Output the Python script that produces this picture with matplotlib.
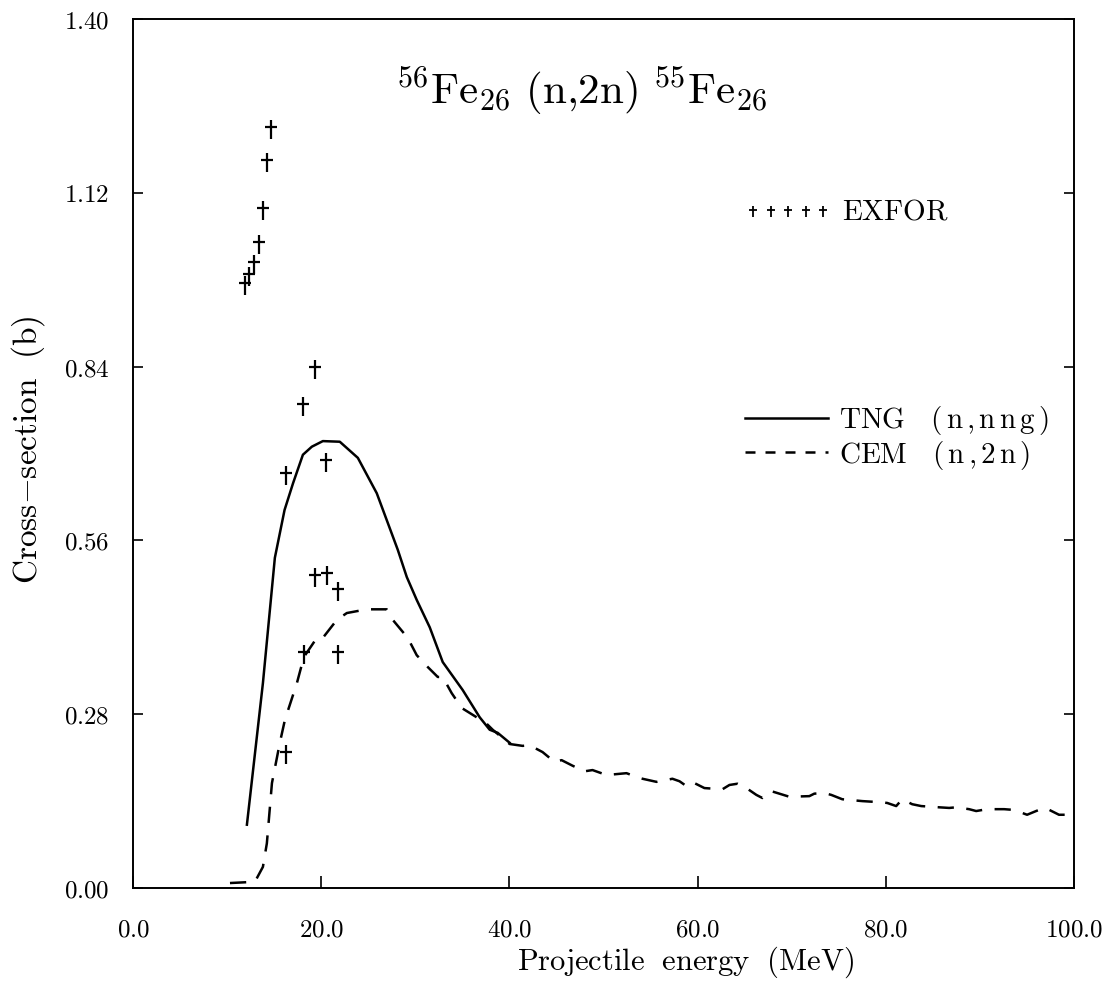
import matplotlib
matplotlib.use("Agg")
from matplotlib import pyplot as plt
from matplotlib.path import Path
from matplotlib.lines import Line2D
from matplotlib.ticker import FuncFormatter

plt.rcParams['mathtext.fontset'] = 'cm'

# EXFOR measured points (MeV, b)
exfor_e = [14.65, 14.22, 13.80, 13.38, 12.85, 12.31, 11.89, 19.32, 18.05, 20.49,
           16.24, 19.32, 20.59, 21.76, 18.15, 21.76, 16.24]
exfor_xs = [1.226, 1.173, 1.095, 1.040, 1.008, 0.989, 0.974, 0.839, 0.779, 0.690,
            0.669, 0.505, 0.508, 0.481, 0.381, 0.381, 0.219]

# TNG (n,nng)
tng_e = [12.1, 13.8, 15.07, 16.1, 17.0, 18.05, 19.0, 20.17, 21.97, 23.89, 25.9,
         28.13, 29.09, 30.15, 31.53, 32.91, 35.03, 36.84, 37.9, 38.75, 40.02]
tng_xs = [0.102, 0.330, 0.532, 0.609, 0.652, 0.698, 0.711, 0.720, 0.719, 0.693, 0.636,
          0.545, 0.501, 0.464, 0.420, 0.364, 0.319, 0.275, 0.255, 0.250, 0.234]

# CEM (n,2n)
cem_e = [10.3, 12.95, 13.8, 14.22, 14.76, 15.6, 16.14, 17.41, 18.15, 19.53, 20.17,
         21.66, 22.72, 24.84, 26.96, 27.6, 29.19, 30.15, 31.32, 32.38, 32.91, 33.86,
         34.93, 36.52, 37.15, 38.22, 40.02, 41.4, 42.14, 43.52, 44.8, 45.54, 46.71,
         47.98, 48.83, 50.32, 52.44, 53.5, 54.14, 55.63, 57.32, 58.07, 58.92, 59.66,
         60.72, 62.63, 63.38, 64.23, 65.18, 66.24, 66.88, 67.83, 68.47, 69.75, 71.87,
         72.4, 73.46, 74.2, 75.37, 77.5, 79.62, 80.15, 81.1, 81.74, 82.8, 83.76,
         85.67, 86.73, 87.47, 88.85, 89.6, 90.76, 92.57, 93.42, 94.48, 95.01, 95.97,
         96.82, 97.35, 98.4, 99.15]
cem_xs = [0.008, 0.010, 0.034, 0.072, 0.169, 0.234, 0.271, 0.330, 0.372, 0.403, 0.403,
          0.432, 0.443, 0.449, 0.449, 0.432, 0.403, 0.375, 0.356, 0.340, 0.340, 0.314,
          0.290, 0.275, 0.271, 0.255, 0.232, 0.229, 0.230, 0.219, 0.203, 0.206, 0.197,
          0.188, 0.190, 0.182, 0.185, 0.179, 0.176, 0.171, 0.176, 0.172, 0.163, 0.169,
          0.161, 0.159, 0.166, 0.168, 0.161, 0.150, 0.145, 0.156, 0.153, 0.147, 0.148,
          0.152, 0.153, 0.150, 0.143, 0.140, 0.138, 0.137, 0.132, 0.143, 0.135, 0.132,
          0.130, 0.129, 0.130, 0.127, 0.124, 0.127, 0.127, 0.126, 0.121, 0.118, 0.124,
          0.129, 0.126, 0.118, 0.118]

x_ticks = [0, 20, 40, 60, 80, 100]
y_ticks = [0.0, 0.28, 0.56, 0.84, 1.12, 1.40]


def rm(s):
    # roman text in computer modern through mathtext
    return r'$\mathrm{' + s.replace(' ', r'\ ') + '}$'


def wide(s):
    # the old plot spaces its letters out a bit
    return r'\,'.join('{,}' if c == ',' else c for c in s)


def main():
    # dagger shaped symbol like the old plotting package
    dagger = Path([(0, -35), (0, 20), (-17, 0), (17, 0)],
                  [Path.MOVETO, Path.LINETO, Path.MOVETO, Path.LINETO])

    fig = plt.figure(figsize=(11.06, 9.81), dpi=100)
    ax = fig.add_axes([0.1203, 0.0948, 0.8508, 0.8858])

    ax.plot(tng_e, tng_xs, color='black', lw=1.8)
    ax.plot(cem_e, cem_xs, color='black', lw=1.8, dashes=(6.5, 5))
    ax.plot(exfor_e, exfor_xs, ls='none', marker=dagger, markersize=17,
            markeredgewidth=1.6, color='black', markerfacecolor='none')

    ax.set_xlim(0, 100)
    ax.set_ylim(0, 1.40)
    ax.set_xticks(x_ticks)
    ax.set_yticks(y_ticks)
    ax.xaxis.set_major_formatter(FuncFormatter(lambda v, p: '$%.1f$' % v))
    ax.yaxis.set_major_formatter(FuncFormatter(lambda v, p: '$%.2f$' % v))
    ax.tick_params(axis='both', direction='in', labelsize=18, width=1.2)
    ax.tick_params(axis='x', length=9, pad=21)
    ax.tick_params(axis='y', length=7, pad=17, right=True)
    for sp in ax.spines.values():
        sp.set_linewidth(1.4)

    ax.set_xlabel(rm('Projectile  energy  (MeV)'), fontsize=22, va='center')
    ax.xaxis.set_label_coords(0.587, -0.0855)
    ax.set_ylabel(rm('Cross{-}section  (b)'), fontsize=24, va='center')
    ax.yaxis.set_label_coords(-0.112, 0.505)

    ax.text(0.477, 0.918,
            r'$^{56}\mathrm{Fe}_{26}\ (\mathrm{n{,}2n})\ ^{55}\mathrm{Fe}_{26}$',
            transform=ax.transAxes, fontsize=31, ha='center', va='center')

    # legends
    h_exp = Line2D([], [], ls='none', marker=dagger, markersize=17,
                   markeredgewidth=1.3, color='black')
    leg1 = ax.legend([h_exp], [rm('EXFOR')], loc='center left',
                     bbox_to_anchor=(0.650, 0.778), frameon=False, fontsize=21,
                     numpoints=5, markerscale=0.62, handlelength=3.0,
                     handletextpad=0.35, borderpad=0, borderaxespad=0)
    ax.add_artist(leg1)

    h_tng = Line2D([], [], color='black', lw=1.8)
    h_cem = Line2D([], [], color='black', lw=1.8, dashes=(4, 4))
    lab_tng = r'$\mathrm{TNG\quad ' + wide('(n,nng)') + '}$'
    lab_cem = r'$\mathrm{CEM\quad ' + wide('(n,2n)') + '}$'
    ax.legend([h_tng, h_cem], [lab_tng, lab_cem],
              loc='center left', bbox_to_anchor=(0.650, 0.518), frameon=False,
              fontsize=21, handlelength=2.85, handletextpad=0.4,
              labelspacing=0.05, borderpad=0, borderaxespad=0)

    fig.savefig('out.png', dpi=100)


if __name__ == "__main__":
    main()
